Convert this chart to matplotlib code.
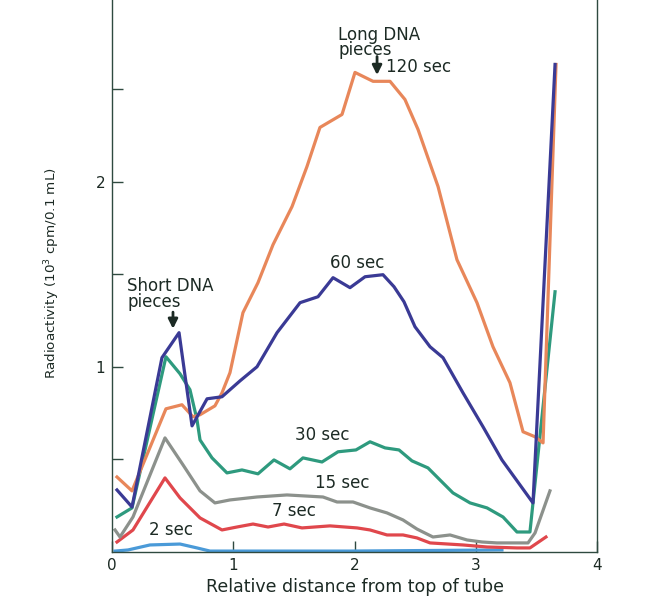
import matplotlib
matplotlib.use('Agg')
import matplotlib.pyplot as plt

# Relative distance (x) and radioactivity (y, 10^3 cpm/0.1 mL) for each labelling time
x_120 = [0.041, 0.165, 0.445, 0.577, 0.668, 0.726, 0.849, 0.907, 0.973, 1.080, 1.204, 1.328,
         1.485, 1.608, 1.715, 1.897, 2.004, 2.153, 2.293, 2.416, 2.524, 2.689, 2.845, 3.010,
         3.142, 3.282, 3.390, 3.489, 3.555, 3.662]
y_120 = [0.405, 0.330, 0.773, 0.795, 0.730, 0.741, 0.789, 0.859, 0.968, 1.292, 1.454, 1.659,
         1.865, 2.081, 2.292, 2.362, 2.589, 2.541, 2.541, 2.443, 2.281, 1.973, 1.578, 1.346,
         1.108, 0.914, 0.649, 0.622, 0.589, 2.632]

x_60 = [0.041, 0.165, 0.412, 0.553, 0.660, 0.784, 0.907, 1.056, 1.196, 1.361, 1.551, 1.699,
        1.823, 1.963, 2.087, 2.235, 2.326, 2.408, 2.499, 2.623, 2.730, 2.895, 3.060, 3.216,
        3.472, 3.654]
y_60 = [0.335, 0.243, 1.049, 1.184, 0.681, 0.827, 0.838, 0.924, 1.000, 1.184, 1.346, 1.378,
        1.481, 1.427, 1.486, 1.497, 1.432, 1.351, 1.216, 1.108, 1.049, 0.859, 0.676, 0.497,
        0.265, 2.632]

x_30 = [0.041, 0.165, 0.445, 0.561, 0.643, 0.701, 0.726, 0.825, 0.948, 1.072, 1.204, 1.336,
        1.468, 1.575, 1.732, 1.864, 2.012, 2.128, 2.252, 2.367, 2.474, 2.606, 2.705, 2.812,
        2.953, 3.093, 3.225, 3.340, 3.447, 3.654]
y_30 = [0.189, 0.238, 1.054, 0.962, 0.876, 0.714, 0.605, 0.508, 0.427, 0.443, 0.422, 0.497,
        0.449, 0.508, 0.486, 0.541, 0.551, 0.595, 0.562, 0.551, 0.492, 0.454, 0.389, 0.319,
        0.265, 0.238, 0.189, 0.108, 0.108, 1.405]

x_15 = [0.025, 0.066, 0.173, 0.437, 0.586, 0.726, 0.849, 0.973, 1.196, 1.443, 1.740, 1.856,
        1.988, 2.128, 2.268, 2.400, 2.515, 2.647, 2.788, 2.928, 3.052, 3.175, 3.340, 3.431,
        3.489, 3.612]
y_15 = [0.119, 0.081, 0.189, 0.616, 0.470, 0.330, 0.265, 0.281, 0.297, 0.308, 0.297, 0.270,
        0.270, 0.238, 0.211, 0.173, 0.124, 0.081, 0.092, 0.065, 0.054, 0.049, 0.049, 0.049,
        0.103, 0.330]

x_7 = [0.041, 0.173, 0.437, 0.561, 0.726, 0.907, 1.031, 1.163, 1.287, 1.419, 1.567, 1.798,
       2.021, 2.128, 2.268, 2.400, 2.515, 2.623, 2.895, 3.093, 3.340, 3.447, 3.579]
y_7 = [0.054, 0.119, 0.400, 0.292, 0.184, 0.119, 0.135, 0.151, 0.135, 0.151, 0.130, 0.141,
       0.130, 0.119, 0.092, 0.092, 0.076, 0.049, 0.038, 0.027, 0.022, 0.022, 0.081]

x_2 = [0.025, 0.132, 0.313, 0.561, 0.701, 0.808, 1.138, 1.963, 3.216]
y_2 = [0.005, 0.011, 0.038, 0.043, 0.022, 0.005, 0.005, 0.005, 0.011]

ink = '#1c2a24'

fig = plt.figure(figsize=(6.67, 5.99), dpi=100)
ax = fig.add_axes([112 / 667, 47 / 599, 485 / 667, 552 / 599])

lw = 2.3
ax.plot(x_2, y_2, color='#4a9ad8', lw=lw)
ax.plot(x_7, y_7, color='#e0474c', lw=lw)
ax.plot(x_15, y_15, color='#8c918c', lw=lw)
ax.plot(x_30, y_30, color='#2e9a7e', lw=lw)
ax.plot(x_120, y_120, color='#e8875a', lw=lw)
ax.plot(x_60, y_60, color='#3a3a95', lw=lw)

ax.set_xlim(0, 4)
ax.set_ylim(0, 2.98)

# spines / ticks
ax.spines['top'].set_visible(False)
for s in ['left', 'bottom', 'right']:
    ax.spines[s].set_color('#2f4a40')
    ax.spines[s].set_linewidth(1.0)

ax.set_xticks([0, 1, 2, 3, 4])
ax.set_xticklabels(['0', '1', '2', '3', '4'])
ax.set_yticks([1, 2])
ax.set_yticklabels(['1', '2'])
ax.set_yticks([0.5, 1.5, 2.5], minor=True)
ax.tick_params(axis='both', which='both', direction='in', length=8, width=1,
               color='#2f4a40', labelsize=11, labelcolor=ink)
ax.tick_params(axis='x', pad=4)
ax.tick_params(axis='y', pad=5)

# axis titles
fig.text(355 / 667, 1 - 587 / 599, 'Relative distance from top of tube',
         fontsize=12.5, color=ink, ha='center', va='center')
ax.set_ylabel('Radioactivity (10$^3$ cpm/0.1 mL)', fontsize=9.7, color=ink)
ax.yaxis.set_label_coords(-0.103, 0.505)

# annotations
fs = 12
ax.text(1.864, 2.75, 'Long DNA\npieces', fontsize=fs, color=ink, ha='left', va='center',
        linespacing=0.82)
ax.annotate('', xy=(2.186, 2.56), xytext=(2.186, 2.69),
            arrowprops=dict(arrowstyle='-|>', lw=2, color=ink, mutation_scale=14))
ax.text(2.26, 2.616, '120 sec', fontsize=fs, color=ink, ha='left', va='center')

ax.text(0.124, 1.392, 'Short DNA\npieces', fontsize=fs, color=ink, ha='left', va='center',
        linespacing=0.82)
ax.annotate('', xy=(0.503, 1.19), xytext=(0.503, 1.31),
            arrowprops=dict(arrowstyle='-|>', lw=2, color=ink, mutation_scale=14))

ax.text(1.798, 1.562, '60 sec', fontsize=fs, color=ink, ha='left', va='center')
ax.text(1.509, 0.632, '30 sec', fontsize=fs, color=ink, ha='left', va='center')
ax.text(1.674, 0.373, '15 sec', fontsize=fs, color=ink, ha='left', va='center')
ax.text(1.32, 0.222, '7 sec', fontsize=fs, color=ink, ha='left', va='center')
ax.text(0.305, 0.119, '2 sec', fontsize=fs, color=ink, ha='left', va='center')

fig.savefig('out.png', dpi=100)
